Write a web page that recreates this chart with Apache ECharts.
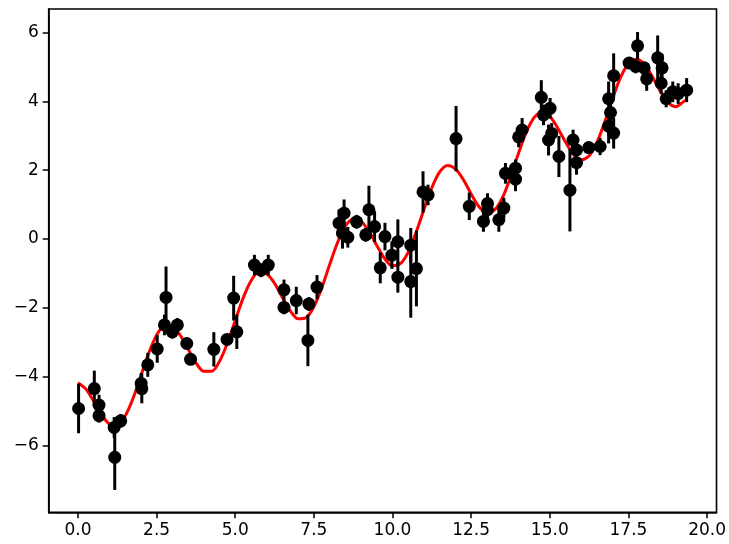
<!DOCTYPE html>
<html>
<head>
<meta charset="utf-8">
<script src="https://cdn.jsdelivr.net/npm/echarts@6/dist/echarts.min.js"></script>
<style>
html,body{margin:0;padding:0;background:#fff;}
#c{width:729px;height:544px;}
</style>
</head>
<body>
<div id="c"></div>
<script>
// Observed points (x, y) and their error half-lengths
const pointX = [0.02,0.52,0.67,0.67,1.15,1.17,1.36,2.01,2.03,2.22,2.52,2.80,2.75,3.00,3.16,3.46,3.58,4.32,4.74,4.95,5.05,5.61,5.82,6.05,6.55,6.55,6.94,7.34,7.31,7.60,8.30,8.46,8.41,8.58,8.86,9.15,9.25,9.43,9.61,9.76,9.98,10.17,10.17,10.58,10.58,10.76,10.97,11.13,12.02,12.44,12.89,13.02,13.02,13.38,13.54,13.59,13.91,13.91,14.01,14.12,14.73,14.80,15.01,14.96,15.06,15.29,15.64,15.74,15.85,15.85,16.24,16.60,16.87,17.03,16.87,16.93,17.03,17.52,17.79,17.73,18.00,18.08,18.43,18.57,18.54,18.70,18.91,19.08,19.35];
const pointY = [-4.93,-4.35,-4.83,-5.14,-5.48,-6.35,-5.29,-4.20,-4.35,-3.66,-3.20,-1.70,-2.50,-2.70,-2.50,-3.04,-3.50,-3.21,-2.92,-1.72,-2.70,-0.76,-0.91,-0.76,-1.48,-1.99,-1.79,-1.89,-2.95,-1.40,0.46,0.75,0.17,0.05,0.50,0.12,0.85,0.36,-0.84,0.07,-0.47,-0.08,-1.11,-0.18,-1.24,-0.86,1.37,1.28,2.92,0.95,0.51,1.03,0.85,0.56,0.90,1.91,2.06,1.74,2.97,3.17,4.12,3.61,3.80,2.88,3.07,2.40,1.42,2.88,2.22,2.59,2.66,2.69,3.28,3.08,4.08,3.68,4.75,5.12,5.62,5.02,4.98,4.66,5.27,4.98,4.53,4.08,4.28,4.23,4.33];
const pointErr = [0.72,0.52,0.30,0.20,0.30,0.95,0.20,0.30,0.43,0.35,0.40,0.90,0.30,0.20,0.20,0.15,0.15,0.50,0.15,0.65,0.50,0.30,0.20,0.30,0.30,0.20,0.40,0.20,0.75,0.35,0.40,0.40,0.45,0.30,0.20,0.20,0.70,0.45,0.45,0.40,0.40,0.65,0.45,0.50,1.05,1.10,0.60,0.30,0.95,0.40,0.30,0.30,0.25,0.35,0.30,0.30,0.25,0.35,0.30,0.35,0.50,0.30,0.30,0.45,0.30,0.60,1.20,0.30,0.35,0.25,0.15,0.25,0.50,0.45,0.50,0.35,0.65,0.15,0.40,0.20,0.15,0.35,0.65,0.40,0.30,0.25,0.30,0.30,0.35];

// Model curve
const curveX = [0,0.25,0.5,0.75,1,1.25,1.5,1.75,2,2.25,2.5,2.75,3,3.25,3.5,3.75,4,4.25,4.5,4.75,5,5.25,5.5,5.75,6,6.25,6.5,6.75,7,7.25,7.5,7.75,8,8.25,8.5,8.75,9,9.25,9.5,9.75,10,10.25,10.5,10.75,11,11.25,11.5,11.75,12,12.25,12.5,12.75,13,13.25,13.5,13.75,14,14.25,14.5,14.75,15,15.25,15.5,15.75,16,16.25,16.5,16.75,17,17.25,17.5,17.75,18,18.25,18.5,18.75,19,19.25,19.35];
const curveY = [-4.18,-4.36,-4.72,-5.11,-5.38,-5.41,-5.15,-4.64,-3.98,-3.32,-2.80,-2.53,-2.54,-2.80,-3.20,-3.60,-3.85,-3.85,-3.56,-3.03,-2.37,-1.72,-1.22,-0.97,-1.01,-1.29,-1.70,-2.09,-2.32,-2.29,-1.97,-1.42,-0.75,-0.11,0.37,0.58,0.52,0.22,-0.19,-0.57,-0.78,-0.72,-0.38,0.19,0.86,1.49,1.95,2.14,2.04,1.73,1.31,0.94,0.76,0.85,1.21,1.80,2.48,3.10,3.53,3.69,3.57,3.23,2.82,2.46,2.30,2.42,2.81,3.41,4.09,4.70,5.10,5.23,5.09,4.74,4.32,3.98,3.85,3.99,4.06];

const xTicks = [0,2.5,5,7.5,10,12.5,15,17.5,20];
const yTicks = [-6,-4,-2,0,2,4,6];

const pts = pointX.map((x,i)=>[x, pointY[i], pointErr[i]]);
const curve = curveX.map((x,i)=>[x, curveY[i]]);

const font = {fontFamily:'DejaVu Sans', fontSize:17, color:'#000'};
const chart = echarts.init(document.getElementById('c'), null, {renderer:'canvas'});
chart.setOption({
  backgroundColor:'#fff',
  animation:false,
  grid:{left:48.7, right:9.5, top:9, bottom:31.7, show:true, borderColor:'#000', borderWidth:1.6, backgroundColor:'#fff'},
  xAxis:{type:'value', min:-0.93, max:20.3,
    axisLine:{show:true, onZero:false, lineStyle:{color:'#000', width:1.6}}, splitLine:{show:false},
    axisTick:{show:true, inside:false, length:6, lineStyle:{color:'#000', width:1.5}, customValues:xTicks},
    axisLabel:Object.assign({margin:10, customValues:xTicks, formatter:v=>v.toFixed(1)}, font)
  },
  yAxis:{type:'value', min:-7.95, max:6.69,
    axisLine:{show:true, onZero:false, lineStyle:{color:'#000', width:1.6}}, splitLine:{show:false},
    axisTick:{show:true, inside:false, length:6, lineStyle:{color:'#000', width:1.5}, customValues:yTicks},
    axisLabel:Object.assign({margin:10, customValues:yTicks, formatter:v=>(v<0?'\u2212':'')+Math.abs(v)}, font)
  },
  series:[
    {type:'line', data:curve, showSymbol:false, smooth:0.3, z:1,
      lineStyle:{color:'#ff0000', width:3}},
    {type:'custom', z:2, data:pts, encode:{x:0,y:1},
      renderItem:function(params, api){
        const x = api.value(0), y = api.value(1), e = api.value(2);
        const a = api.coord([x, y-e]), b = api.coord([x, y+e]);
        return {type:'line', shape:{x1:a[0], y1:a[1], x2:b[0], y2:b[1]}, style:{stroke:'#000', lineWidth:3}};
      }},
    {type:'scatter', z:3, data:pts.map(p=>[p[0],p[1]]), symbol:'circle', symbolSize:13,
      itemStyle:{color:'#000', opacity:1}}
  ]
});
</script>
</body>
</html>
